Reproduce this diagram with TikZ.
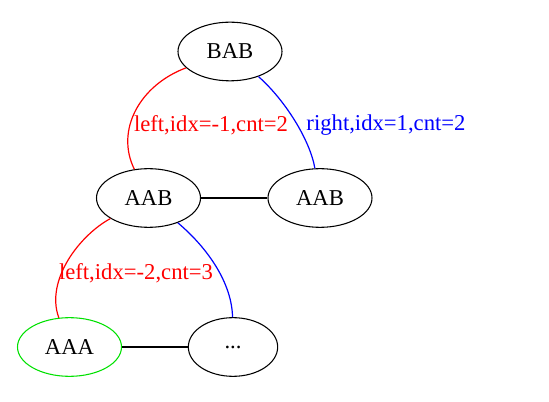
\documentclass[tikz,border=0pt]{standalone}
\usepackage{fontspec}
\setmainfont{Liberation Serif}
\usetikzlibrary{positioning,shapes.geometric}

\definecolor{gvgreen}{RGB}{0,225,0}

\begin{document}
\begin{tikzpicture}[x=0.75pt,y=-0.75pt,
    state/.style={draw,ellipse,thick,inner sep=0pt,minimum width=78pt,
        minimum height=44pt,font=\fontsize{17}{19}\selectfont},
    lbl/.style={inner sep=1pt,font=\fontsize{17}{19}\selectfont},
    tie/.style={thick,line width=0.9pt}]
\useasboundingbox (0,0) rectangle (549,402);
% the nodes
\path (230,51.5) node[state] (bab) {BAB};
\path (148.5,198) node[state] (aabl) {AAB}
   (320,198) node[state] (aabr) {AAB};
\path (69.5,347) node[state,draw=gvgreen] (aaa) {AAA}
   (233,347) node[state,minimum width=67pt] (more) {...};
% labels
\node[lbl,text=red] (lbl1) at (211,125) {left,idx=-1,cnt=2};
\node[lbl,text=blue] (lbl2) at (386,125) {right,idx=1,cnt=2};
\node[lbl,text=red] (lbl3) at (136,273) {left,idx=-2,cnt=3};
% edges
\draw[tie,red] (bab) .. controls (140,85) and (115,130) .. (aabl);
\draw[tie,blue] (bab) .. controls (285,100) and (310,140) .. (aabr);
\draw[tie,red] (aabl) .. controls (80,235) and (45,280) .. (aaa);
\draw[tie,blue] (aabl) .. controls (210,250) and (232,285) .. (more);
\draw[tie] (aabl) -- (aabr);
\draw[tie] (aaa) -- (more);
\end{tikzpicture}
\end{document}
